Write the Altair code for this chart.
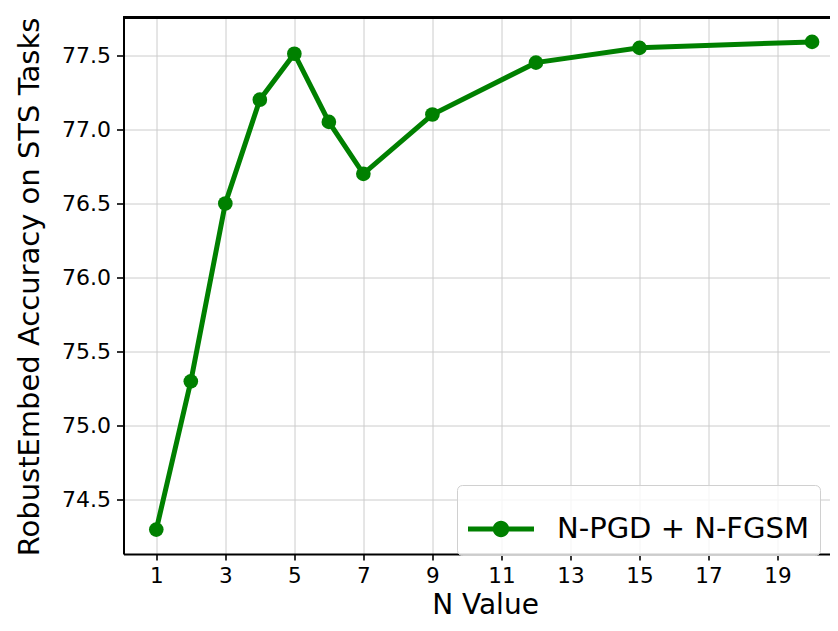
import altair as alt
import pandas as pd

n_values = [1, 2, 3, 4, 5, 6, 7, 9, 12, 15, 20]
accuracy = [74.3, 75.3, 76.5, 77.2, 77.51, 77.05, 76.7, 77.1, 77.45, 77.55, 77.59]
series_name = "N-PGD + N-FGSM"
x_ticks = [1, 3, 5, 7, 9, 11, 13, 15, 17, 19]
y_ticks = [74.5, 75.0, 75.5, 76.0, 76.5, 77.0, 77.5]

df = pd.DataFrame({"N": n_values, "acc": accuracy, "series": [series_name] * len(n_values)})

FONT = "DejaVu Sans"
W, H = 706.5, 536.5
GREEN = "#008000"

x_enc = alt.X(
    "N:Q",
    scale=alt.Scale(domain=[0.05, 20.52], nice=False, zero=False),
    axis=alt.Axis(
        values=x_ticks, title="N Value", format="d",
        titleX=361.5, titleY=59.3, titleBaseline="alphabetic", titleAlign="center",
        titleFontSize=28, labelFontSize=21.5, tickSize=6, labelPadding=5,
    ),
)
y_enc = alt.Y(
    "acc:Q",
    scale=alt.Scale(domain=[74.1355, 77.7545], nice=False, zero=False),
    axis=alt.Axis(
        values=y_ticks, format=".1f", title="RobustEmbed Accuracy on STS Tasks",
        titleX=-85.5, titleY=269, titleAngle=270, titleBaseline="alphabetic", titleAlign="center",
        titleFontSize=29, labelFontSize=22, tickSize=7, labelPadding=6,
    ),
)

symbol_path = "M-1,-0.076H1V0.076H-1Z M0.25,0A0.25,0.25,0,1,1,-0.25,0A0.25,0.25,0,1,1,0.25,0Z"

line = alt.Chart(df).mark_line(color=GREEN, strokeWidth=5).encode(x=x_enc, y=y_enc)
points = alt.Chart(df).mark_point(filled=True, size=215, opacity=1).encode(
    x=x_enc,
    y=y_enc,
    color=alt.Color(
        "series:N",
        scale=alt.Scale(domain=[series_name], range=[GREEN]),
        legend=alt.Legend(
            title=None, orient="none", legendX=333.5, legendY=467.5,
            symbolType=symbol_path, symbolSize=4356, symbolStrokeWidth=0,
            labelFontSize=29, labelFont=FONT, labelColor="black", labelLimit=500,
            labelOffset=23, padding=11, cornerRadius=5,
            strokeColor="#d0d0d0", fillColor="rgba(255,255,255,0.8)",
        ),
    ),
)
top_spine = alt.Chart(df).mark_rule(color="black", strokeWidth=2).encode(
    x=alt.value(0), x2=alt.value(W), y=alt.value(0)
)

chart = (
    alt.layer(line, points, top_spine)
    .properties(
        width=W, height=H,
        autosize=alt.AutoSizeParams(type="none"),
        padding={"left": 115.5, "top": 9.5, "right": 0, "bottom": 66},
    )
    .configure_view(stroke=None)
    .configure_axis(
        labelFont=FONT, titleFont=FONT,
        labelColor="black", titleColor="black", titleFontWeight="normal",
        domainColor="black", domainWidth=2,
        tickColor="black", tickWidth=1.6,
        gridColor="#cccccc", gridWidth=1,
    )
)

chart.save("out.html", embed_options={"renderer": "svg", "actions": False})
